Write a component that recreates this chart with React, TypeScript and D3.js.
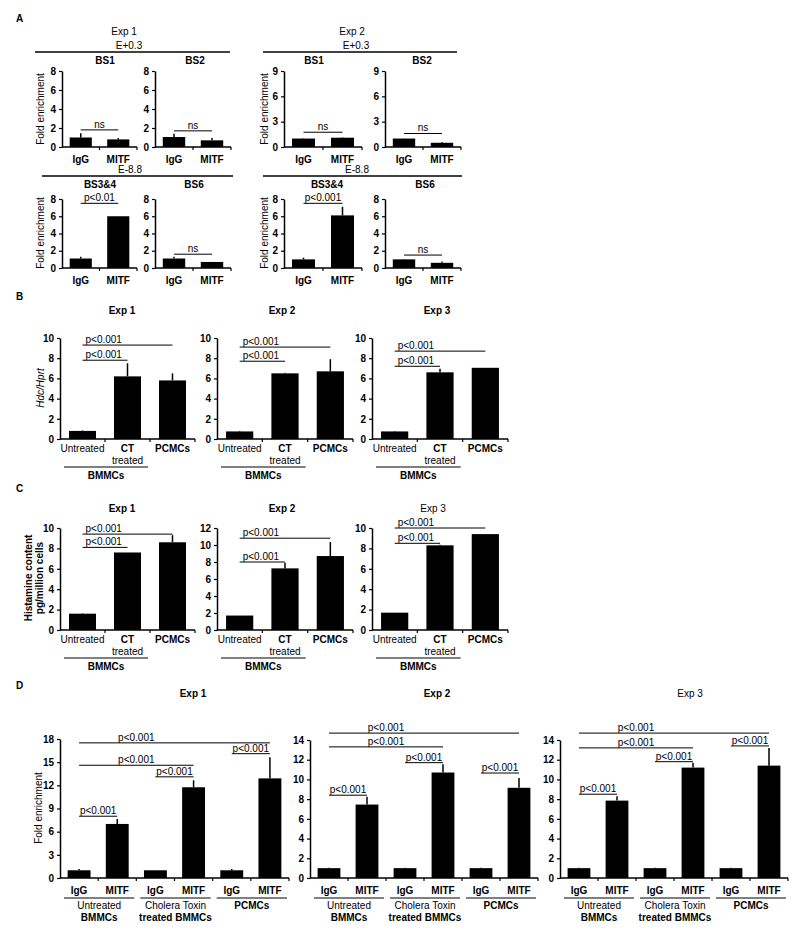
import React, { useEffect, useRef } from 'react'
import * as d3 from 'd3'

const FONT = '"Liberation Sans", Arial, Helvetica, sans-serif'

// ---------------- data ----------------
// Panel A: ChIP fold enrichment, IgG vs MITF
const chipCats = [['IgG'], ['MITF']]
const aExp1BS1 = [1.0, 0.8]
const aExp1BS1Err = [0.45, 0.15]
const aExp1BS2 = [1.05, 0.7]
const aExp1BS2Err = [0.35, 0.25]
const aExp2BS1 = [1.0, 1.1]
const aExp2BS1Err = [0.05, 0.05]
const aExp2BS2 = [1.0, 0.5]
const aExp2BS2Err = [0.05, 0.1]
const aExp1BS34 = [1.1, 6.0]
const aExp1BS34Err = [0.2, 0]
const aExp1BS6 = [1.1, 0.7]
const aExp1BS6Err = [0.2, 0]
const aExp2BS34 = [1.0, 6.1]
const aExp2BS34Err = [0.2, 1.0]
const aExp2BS6 = [1.0, 0.6]
const aExp2BS6Err = [0.05, 0.15]

// Panel B: Hdc/Hprt
const cellCats = [['Untreated'], ['CT', 'treated'], ['PCMCs']]
const bExp1 = [0.8, 6.2, 5.8]
const bExp1Err = [0.05, 1.3, 0.7]
const bExp2 = [0.75, 6.5, 6.7]
const bExp2Err = [0.05, 0.05, 1.2]
const bExp3 = [0.75, 6.6, 7.05]
const bExp3Err = [0.05, 0.35, 0]

// Panel C: histamine content pg/million cells
const cExp1 = [1.6, 7.6, 8.6]
const cExp1Err = [0.05, 0, 0.7]
const cExp2 = [1.7, 7.25, 8.7]
const cExp2Err = [0, 0.65, 1.65]
const cExp3 = [1.7, 8.3, 9.4]
const cExp3Err = [0, 0.05, 0]

// Panel D: ChIP fold enrichment per cell type
const dCats = [['IgG'], ['MITF'], ['IgG'], ['MITF'], ['IgG'], ['MITF']]
const dGroups = [
  { from: 0, to: 1, lines: ['Untreated', 'BMMCs'] },
  { from: 2, to: 3, lines: ['Cholera Toxin', 'treated BMMCs'] },
  { from: 4, to: 5, lines: ['PCMCs'] },
]
const dExp1 = [1.0, 7.0, 1.0, 11.75, 1.0, 12.9]
const dExp1Err = [0.15, 0.65, 0, 0.9, 0.15, 2.75]
const dExp2 = [1.0, 7.45, 1.0, 10.7, 1.0, 9.15]
const dExp2Err = [0.05, 0.8, 0.05, 0.85, 0.05, 1.0]
const dExp3 = [1.0, 7.85, 1.0, 11.2, 1.0, 11.4]
const dExp3Err = [0.05, 0.45, 0.05, 0.5, 0.05, 1.8]

// significance brackets: bar a to bar b at value "level"
type Bracket = { a: number; b: number; level: number; label: string; align?: 'start'; span?: [number, number] }
const aExp1BS1Br: Bracket[] = [{ a: 0, b: 1, level: 1.8, label: 'ns' }]
const aExp1BS2Br: Bracket[] = [{ a: 0, b: 1, level: 1.7, label: 'ns' }]
const aExp2BS1Br: Bracket[] = [{ a: 0, b: 1, level: 1.75, label: 'ns' }]
const aExp2BS2Br: Bracket[] = [{ a: 0, b: 1, level: 1.6, label: 'ns' }]
const aExp1BS34Br: Bracket[] = [{ a: 0, b: 1, level: 7.5, label: 'p<0.01' }]
const aExp1BS6Br: Bracket[] = [{ a: 0, b: 1, level: 1.6, label: 'ns' }]
const aExp2BS34Br: Bracket[] = [{ a: 0, b: 1, level: 7.5, label: 'p<0.001' }]
const aExp2BS6Br: Bracket[] = [{ a: 0, b: 1, level: 1.5, label: 'ns' }]

const bExp1Br: Bracket[] = [
  { a: 0, b: 2, level: 9.3, label: 'p<0.001', align: 'start' },
  { a: 0, b: 1, level: 7.8, label: 'p<0.001', align: 'start' },
]
const bExp2Br: Bracket[] = [
  { a: 0, b: 2, level: 9.1, label: 'p<0.001', align: 'start' },
  { a: 0, b: 1, level: 7.7, label: 'p<0.001', align: 'start' },
]
const bExp3Br: Bracket[] = [
  { a: 0, b: 2, level: 8.7, label: 'p<0.001', align: 'start' },
  { a: 0, b: 1, level: 7.2, label: 'p<0.001', align: 'start' },
]
const cExp1Br: Bracket[] = [
  { a: 0, b: 2, level: 9.4, label: 'p<0.001', align: 'start' },
  { a: 0, b: 1, level: 8.1, label: 'p<0.001', align: 'start' },
]
const cExp2Br: Bracket[] = [
  { a: 0, b: 2, level: 10.8, label: 'p<0.001', align: 'start' },
  { a: 0, b: 1, level: 8.0, label: 'p<0.001', align: 'start' },
]
const cExp3Br: Bracket[] = [
  { a: 0, b: 2, level: 10.0, label: 'p<0.001', align: 'start' },
  { a: 0, b: 1, level: 8.5, label: 'p<0.001', align: 'start' },
]
const dExp1Br: Bracket[] = [
  { a: 0, b: 1, level: 8.0, label: 'p<0.001' },
  { a: 2, b: 3, level: 13.1, label: 'p<0.001' },
  { a: 4, b: 5, level: 16.1, label: 'p<0.001' },
  { a: 0, b: 3, level: 14.6, label: 'p<0.001' },
  { a: 0, b: 5, level: 17.5, label: 'p<0.001', span: [0, 3] },
]
const dExp2Br: Bracket[] = [
  { a: 0, b: 1, level: 8.4, label: 'p<0.001' },
  { a: 2, b: 3, level: 11.7, label: 'p<0.001' },
  { a: 4, b: 5, level: 10.65, label: 'p<0.001' },
  { a: 0, b: 3, level: 13.3, label: 'p<0.001' },
  { a: 0, b: 5, level: 14.7, label: 'p<0.001', span: [0, 3] },
]
const dExp3Br: Bracket[] = [
  { a: 0, b: 1, level: 8.5, label: 'p<0.001' },
  { a: 2, b: 3, level: 11.8, label: 'p<0.001' },
  { a: 4, b: 5, level: 13.4, label: 'p<0.001' },
  { a: 0, b: 3, level: 13.2, label: 'p<0.001' },
  { a: 0, b: 5, level: 14.7, label: 'p<0.001', span: [0, 3] },
]

// ---------------- layout ----------------
type Layout = { ax: number; xEnd: number; y0: number; yTop: number; yMax: number; ticks: number[]; pad: number }
const lay = (ax: number, xEnd: number, y0: number, yTop: number, yMax: number, step: number, pad: number): Layout => ({
  ax, xEnd, y0, yTop, yMax, ticks: d3.range(0, yMax + 0.001, step), pad,
})

const boldLabel = /^(IgG|MITF|CT|PCMCs|BMMCs|treated BMMCs)$/

type LabelOpts = { dy: number; gap: number; groupLineDy?: number; groupDy?: number; groups?: { from: number; to: number; lines: string[] }[] }
type Svg = d3.Selection<SVGSVGElement, unknown, null, undefined>

function drawBars(svg: Svg, L: Layout, values: number[], errs: number[], brackets: Bracket[], cats: string[][], opts: LabelOpts) {
  const g = svg.append('g')
  const y = d3.scaleLinear().domain([0, L.yMax]).range([L.y0, L.yTop])
  const x = d3
    .scaleBand<number>()
    .domain(d3.range(values.length))
    .range([L.ax, L.xEnd])
    .paddingInner(L.pad)
    .paddingOuter(L.pad / 2)
  const cx = (i: number) => (x(i) as number) + x.bandwidth() / 2
  const edge = (i: number) => L.ax + i * x.step()
  const rows = values.map((v, i) => ({ v, e: errs[i], i }))

  // bars
  g.selectAll('rect')
    .data(rows)
    .join('rect')
    .attr('x', (d) => x(d.i) as number)
    .attr('y', (d) => y(d.v))
    .attr('width', x.bandwidth())
    .attr('height', (d) => y(0) - y(d.v))
    .attr('fill', '#000')

  // error bars (upper only)
  g.selectAll('line.err')
    .data(rows.filter((d) => d.e > 0))
    .join('line')
    .attr('class', 'err')
    .attr('x1', (d) => cx(d.i))
    .attr('x2', (d) => cx(d.i))
    .attr('y1', (d) => y(d.v))
    .attr('y2', (d) => y(d.v + d.e))
    .attr('stroke', '#000')
    .attr('stroke-width', 1.5)

  // y axis
  const yAxis = g
    .append('g')
    .attr('transform', `translate(${L.ax},0)`)
    .call(d3.axisLeft(y).tickValues(L.ticks).tickSize(3).tickSizeOuter(0).tickPadding(3).tickFormat(d3.format('d')))
  yAxis.attr('font-family', FONT).attr('font-size', 10).attr('font-weight', 'bold')
  yAxis.select('.domain').attr('stroke-width', 1.5)
  yAxis.selectAll('.tick line').attr('stroke-width', 1.2)

  // x axis with ticks between categories
  g.append('line')
    .attr('x1', L.ax)
    .attr('x2', L.xEnd)
    .attr('y1', y(0))
    .attr('y2', y(0))
    .attr('stroke', '#000')
    .attr('stroke-width', 1.5)
  g.selectAll('line.xt')
    .data(d3.range(1, values.length + 1))
    .join('line')
    .attr('class', 'xt')
    .attr('x1', (i) => edge(i))
    .attr('x2', (i) => edge(i))
    .attr('y1', y(0))
    .attr('y2', y(0) + 3)
    .attr('stroke', '#000')
    .attr('stroke-width', 1.2)

  // category labels
  cats.forEach((lines, i) => {
    lines.forEach((t, k) => {
      g.append('text')
        .attr('x', cx(i))
        .attr('y', L.y0 + opts.dy + k * opts.gap)
        .attr('text-anchor', 'middle')
        .attr('font-family', FONT)
        .attr('font-size', 10)
        .attr('font-weight', boldLabel.test(t) ? 'bold' : 'normal')
        .text(t)
    })
  })

  // grouping lines under categories
  ;(opts.groups || []).forEach((gr) => {
    const x1 = edge(gr.from) + 4
    const x2 = edge(gr.to + 1) - 2
    g.append('line')
      .attr('x1', x1)
      .attr('x2', x2)
      .attr('y1', L.y0 + (opts.groupLineDy || 0))
      .attr('y2', L.y0 + (opts.groupLineDy || 0))
      .attr('stroke', '#000')
      .attr('stroke-width', 1)
    gr.lines.forEach((t, k) => {
      g.append('text')
        .attr('x', (x1 + x2) / 2)
        .attr('y', L.y0 + (opts.groupDy || 0) + k * 12)
        .attr('text-anchor', 'middle')
        .attr('font-family', FONT)
        .attr('font-size', 10)
        .attr('font-weight', boldLabel.test(t) ? 'bold' : 'normal')
        .text(t)
    })
  })

  // significance brackets
  brackets.forEach((b) => {
    const x1 = cx(b.a)
    const x2 = cx(b.b)
    const yy = y(b.level)
    g.append('line')
      .attr('x1', x1)
      .attr('x2', x2)
      .attr('y1', yy)
      .attr('y2', yy)
      .attr('stroke', '#000')
      .attr('stroke-width', 1)
    let tx = (x1 + x2) / 2
    let anchor = 'middle'
    if (b.align === 'start') {
      tx = x1 + 3
      anchor = 'start'
    } else if (b.span) {
      tx = (cx(b.span[0]) + cx(b.span[1])) / 2
    }
    g.append('text')
      .attr('x', tx)
      .attr('y', yy - 2)
      .attr('text-anchor', anchor)
      .attr('font-family', FONT)
      .attr('font-size', 10)
      .text(b.label)
  })
}

function text(
  svg: Svg,
  x: number,
  y: number,
  t: string,
  opts: { bold?: boolean; rotate?: boolean; italic?: boolean; size?: number; anchor?: string } = {}
) {
  svg
    .append('text')
    .attr('transform', opts.rotate ? `translate(${x},${y}) rotate(-90)` : `translate(${x},${y})`)
    .attr('text-anchor', opts.anchor || 'middle')
    .attr('font-family', FONT)
    .attr('font-size', opts.size || 10)
    .attr('font-weight', opts.bold ? 'bold' : 'normal')
    .attr('font-style', opts.italic ? 'italic' : 'normal')
    .text(t)
}

function hline(svg: Svg, x1: number, x2: number, y: number) {
  svg.append('line').attr('x1', x1).attr('x2', x2).attr('y1', y).attr('y2', y).attr('stroke', '#000').attr('stroke-width', 1.5)
}

export default function App() {
  const svgRef = useRef<SVGSVGElement>(null)

  useEffect(() => {
    const svg = d3.select(svgRef.current as SVGSVGElement)
    svg.selectAll('*').remove()

    // ---------- Panel A ----------
    text(svg, 16, 22, 'A', { bold: true, anchor: 'start' })
    const aOpts: LabelOpts = { dy: 16, gap: 12 }
    text(svg, 124, 35, 'Exp 1')
    text(svg, 129, 49, 'E+0.3')
    hline(svg, 35, 230, 52)
    text(svg, 105, 64, 'BS1', { bold: true })
    text(svg, 195, 64, 'BS2', { bold: true })
    text(svg, 352, 35, 'Exp 2')
    text(svg, 356, 49, 'E+0.3')
    hline(svg, 263, 457, 52)
    text(svg, 314, 64, 'BS1', { bold: true })
    text(svg, 422, 64, 'BS2', { bold: true })

    text(svg, 130, 173, 'E-8.8')
    hline(svg, 42, 233, 176)
    text(svg, 100, 188, 'BS3&4', { bold: true })
    text(svg, 194, 188, 'BS6', { bold: true })
    text(svg, 357, 173, 'E-8.8')
    hline(svg, 263, 462, 176)
    text(svg, 327, 188, 'BS3&4', { bold: true })
    text(svg, 425, 188, 'BS6', { bold: true })

    drawBars(svg, lay(62, 137, 147, 71, 8, 2, 0.41), aExp1BS1, aExp1BS1Err, aExp1BS1Br, chipCats, aOpts)
    drawBars(svg, lay(155, 231, 147, 71, 8, 2, 0.41), aExp1BS2, aExp1BS2Err, aExp1BS2Br, chipCats, aOpts)
    drawBars(svg, lay(284, 362, 147, 71, 9, 3, 0.41), aExp2BS1, aExp2BS1Err, aExp2BS1Br, chipCats, aOpts)
    drawBars(svg, lay(385, 461, 147, 71, 9, 3, 0.41), aExp2BS2, aExp2BS2Err, aExp2BS2Br, chipCats, aOpts)
    drawBars(svg, lay(62, 137, 268, 199, 8, 2, 0.41), aExp1BS34, aExp1BS34Err, aExp1BS34Br, chipCats, aOpts)
    drawBars(svg, lay(155, 231, 268, 199, 8, 2, 0.41), aExp1BS6, aExp1BS6Err, aExp1BS6Br, chipCats, aOpts)
    drawBars(svg, lay(284, 362, 268, 199, 8, 2, 0.41), aExp2BS34, aExp2BS34Err, aExp2BS34Br, chipCats, aOpts)
    drawBars(svg, lay(385, 461, 268, 199, 8, 2, 0.41), aExp2BS6, aExp2BS6Err, aExp2BS6Br, chipCats, aOpts)

    text(svg, 44, 109, 'Fold enrichment', { rotate: true })
    text(svg, 268, 109, 'Fold enrichment', { rotate: true })
    text(svg, 44, 233, 'Fold enrichment', { rotate: true })
    text(svg, 268, 233, 'Fold enrichment', { rotate: true })

    // ---------- Panel B ----------
    text(svg, 16, 300, 'B', { bold: true, anchor: 'start' })
    const bcOpts: LabelOpts = {
      dy: 13,
      gap: 12,
      groupLineDy: 28,
      groupDy: 40,
      groups: [{ from: 0, to: 1, lines: ['BMMCs'] }],
    }
    text(svg, 122, 314, 'Exp 1', { bold: true })
    text(svg, 282, 314, 'Exp 2', { bold: true })
    text(svg, 437, 314, 'Exp 3', { bold: true })
    drawBars(svg, lay(60, 195, 439, 338, 10, 2, 0.4), bExp1, bExp1Err, bExp1Br, cellCats, bcOpts)
    drawBars(svg, lay(217, 353, 439, 338, 10, 2, 0.4), bExp2, bExp2Err, bExp2Br, cellCats, bcOpts)
    drawBars(svg, lay(372, 508, 439, 338, 10, 2, 0.4), bExp3, bExp3Err, bExp3Br, cellCats, bcOpts)
    text(svg, 44, 388, 'Hdc/Hprt', { rotate: true, italic: true })

    // ---------- Panel C ----------
    text(svg, 16, 492, 'C', { bold: true, anchor: 'start' })
    text(svg, 122, 512, 'Exp 1', { bold: true })
    text(svg, 282, 512, 'Exp 2', { bold: true })
    text(svg, 433, 512, 'Exp 3')
    drawBars(svg, lay(60, 195, 630, 528, 10, 2, 0.4), cExp1, cExp1Err, cExp1Br, cellCats, bcOpts)
    drawBars(svg, lay(217, 353, 630, 528, 12, 2, 0.4), cExp2, cExp2Err, cExp2Br, cellCats, bcOpts)
    drawBars(svg, lay(372, 508, 630, 528, 10, 2, 0.4), cExp3, cExp3Err, cExp3Br, cellCats, bcOpts)
    text(svg, 32, 578, 'Histamine content', { rotate: true, bold: true })
    text(svg, 43, 578, 'pg/million cells', { rotate: true, bold: true })

    // ---------- Panel D ----------
    text(svg, 16, 689, 'D', { bold: true, anchor: 'start' })
    const dOpts: LabelOpts = { dy: 16, gap: 12, groupLineDy: 20, groupDy: 31, groups: dGroups }
    text(svg, 193, 697, 'Exp 1', { bold: true })
    text(svg, 437, 697, 'Exp 2', { bold: true })
    text(svg, 690, 697, 'Exp 3')
    drawBars(svg, lay(60, 289, 878, 739, 18, 3, 0.4), dExp1, dExp1Err, dExp1Br, dCats, dOpts)
    drawBars(svg, lay(310, 538, 878, 740, 14, 2, 0.4), dExp2, dExp2Err, dExp2Br, dCats, dOpts)
    drawBars(svg, lay(560, 788, 878, 740, 14, 2, 0.4), dExp3, dExp3Err, dExp3Br, dCats, dOpts)
    text(svg, 42, 808, 'Fold enrichment', { rotate: true })
  }, [])

  return (
    <svg
      ref={svgRef}
      width={800}
      height={934}
      style={{ position: 'absolute', left: 0, top: 0, background: '#fff' }}
    />
  )
}
